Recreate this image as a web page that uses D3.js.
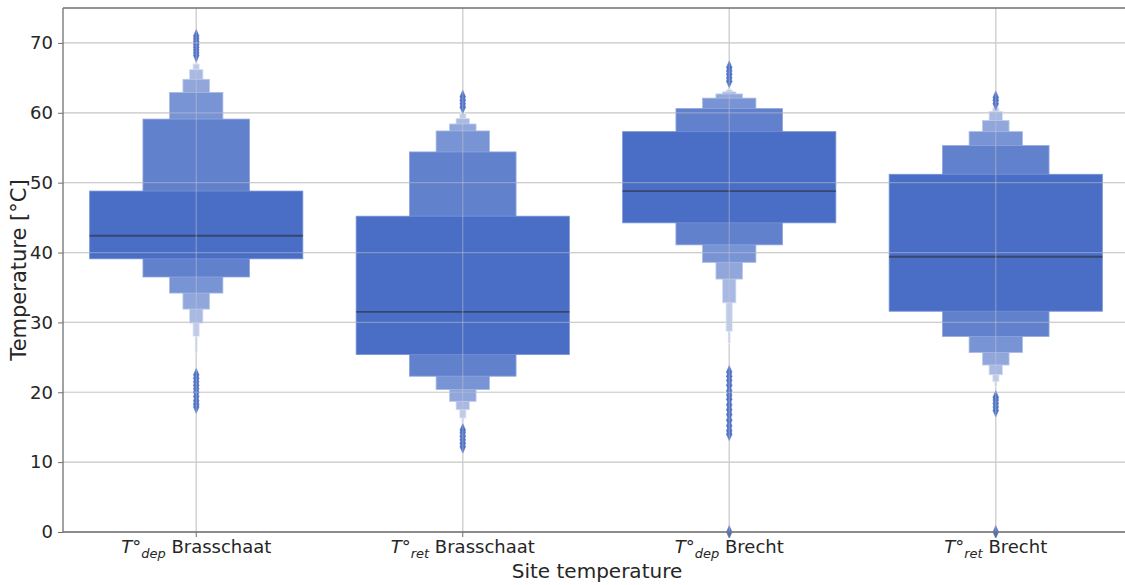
<!DOCTYPE html>
<html><head><meta charset="utf-8">
<script src="https://cdn.jsdelivr.net/npm/d3@7"></script>
<style>body{margin:0;background:#fff}svg{display:block;font-family:"DejaVu Sans",sans-serif}</style>
</head><body>
<svg id="c" width="1125" height="585"></svg>
<script>
const categories = ["dep Brasschaat","ret Brasschaat","dep Brecht","ret Brecht"];
const subscripts = ["dep","ret","dep","ret"];
const sites = ["Brasschaat","Brasschaat","Brecht","Brecht"];
const medians = [42.4, 31.5, 48.8, 39.4];
// letter-value levels, innermost (IQR) first
const lowerLevels = [
  [39.1, 36.5, 34.2, 31.9, 29.9, 28.0, 25.6],
  [25.4, 22.3, 20.4, 18.7, 17.5, 16.3, 15.6],
  [44.25, 41.1, 38.6, 36.2, 32.8, 28.7, 27.0],
  [31.6, 28.0, 25.7, 23.9, 22.5, 21.5, 20.8]
];
const upperLevels = [
  [48.8, 59.1, 62.9, 64.8, 66.2, 67.0, 67.4],
  [45.2, 54.4, 57.4, 58.4, 59.2, 59.9, 60.3],
  [57.3, 60.6, 62.1, 62.7, 63.0, 63.3, 63.6],
  [51.2, 55.3, 57.3, 58.9, 60.2, 60.7, 61.0]
];
const outliers = [
  [68.2, 68.6, 69.0, 69.4, 69.8, 70.2, 70.6, 71.0, 17.9, 18.3, 18.8, 19.4, 20.0, 20.5, 21.0, 21.5, 22.0, 22.5],
  [60.8, 61.3, 61.8, 62.3, 12.2, 12.7, 13.2, 13.7, 14.2, 14.6],
  [64.5, 65.0, 65.5, 66.0, 66.5, 14.0, 14.5, 15.2, 16.0, 16.8, 17.5, 18.2, 19.0, 19.6, 20.2, 21.0, 21.7, 22.3, 22.9, 0],
  [61.3, 61.8, 62.2, 17.4, 17.9, 18.4, 18.9, 19.3, 0]
];
const yTicks = [0, 10, 20, 30, 40, 50, 60, 70];

const svg = d3.select("#c");
const M = {l: 63, r: 1129, t: 8, b: 532};
const x = d3.scaleBand().domain(categories).range([M.l, M.r]).padding(0);
const y = d3.scaleLinear().domain([0, 75]).range([M.b, M.t]);
const baseColor = "#4a6ec6";
const gridCol = "#d2d2d2";

svg.append("defs").append("clipPath").attr("id","pc")
  .append("rect").attr("x",M.l).attr("y",M.t-6).attr("width",M.r-M.l).attr("height",M.b-M.t+12);

function grid(g, col, op){
  g.selectAll(".hy").data(yTicks).join("line")
    .attr("x1",M.l).attr("x2",M.r).attr("y1",d=>y(d)).attr("y2",d=>y(d))
    .attr("stroke",col).attr("stroke-opacity",op).attr("stroke-width",1.2);
  g.selectAll(".vx").data(categories).join("line").attr("class","vx")
    .attr("x1",d=>x(d)+x.bandwidth()/2).attr("x2",d=>x(d)+x.bandwidth()/2)
    .attr("y1",M.t).attr("y2",M.b)
    .attr("stroke",col).attr("stroke-opacity",op).attr("stroke-width",1.2);
}
grid(svg.append("g"), gridCol, 1);

const plot = svg.append("g").attr("clip-path","url(#pc)");
const fullW = x.bandwidth()*0.8;
categories.forEach((c, i) => {
  const cx = x(c) + x.bandwidth()/2;
  const g = plot.append("g");
  const n = lowerLevels[i].length;
  const lv = d3.range(n).reverse();
  g.selectAll("rect").data(lv).join("rect")
    .attr("x", k => cx - fullW*Math.pow(0.5,k)/2)
    .attr("width", k => fullW*Math.pow(0.5,k))
    .attr("y", k => y(upperLevels[i][k]))
    .attr("height", k => y(lowerLevels[i][k]) - y(upperLevels[i][k]))
    .attr("fill", k => d3.interpolateRgb(baseColor, "#ffffff")(k*0.13))
    .attr("stroke", k => d3.interpolateRgb(baseColor, "#ffffff")(k*0.13+0.25))
    .attr("stroke-width", 0.8);
  // outliers
  g.selectAll("path").data(outliers[i]).join("path")
    .attr("d", d3.symbol(d3.symbolDiamond, 30))
    .attr("transform", d => `translate(${cx},${y(d)}) scale(0.95,1.25)`)
    .attr("fill", baseColor).attr("stroke", "#5a7bcc").attr("stroke-width", 0.6);
});

grid(svg.append("g"), "#c8c8c8", 0.45);

// medians
plot.append("g").selectAll("line").data(categories).join("line")
  .attr("x1",(d)=>x(d)+x.bandwidth()/2-fullW/2).attr("x2",(d)=>x(d)+x.bandwidth()/2+fullW/2)
  .attr("y1",(d,i)=>y(medians[i])).attr("y2",(d,i)=>y(medians[i]))
  .attr("stroke","#33415f").attr("stroke-opacity",0.85).attr("stroke-width",1.8);

// spines
const spine = "#707070";
svg.append("line").attr("x1",M.l).attr("x2",M.l).attr("y1",M.t).attr("y2",M.b).attr("stroke",spine).attr("stroke-width",1.3);
svg.append("line").attr("x1",M.l).attr("x2",M.r).attr("y1",M.b).attr("y2",M.b).attr("stroke",spine).attr("stroke-width",1.3);
svg.append("line").attr("x1",M.l).attr("x2",M.r).attr("y1",M.t).attr("y2",M.t).attr("stroke",spine).attr("stroke-width",1.3);

// y axis
const ya = svg.append("g").attr("transform",`translate(${M.l},0)`)
  .call(d3.axisLeft(y).tickValues(yTicks).tickSize(5).tickPadding(5).tickFormat(d3.format("d")));
ya.select(".domain").remove();
ya.selectAll("line").attr("stroke",spine);
ya.selectAll("text").attr("font-size",18).attr("fill","#262626").attr("font-family","DejaVu Sans");

// x axis
const xa = svg.append("g").attr("transform",`translate(0,${M.b})`)
  .call(d3.axisBottom(x).tickSize(5).tickPadding(4).tickFormat(""));
xa.select(".domain").remove();
xa.selectAll("line").attr("stroke",spine);
xa.selectAll(".tick").each(function(d,i){
  const t = d3.select(this).append("text").attr("y",21).attr("text-anchor","middle")
    .attr("fill","#262626").attr("font-size",18).attr("font-family","DejaVu Sans");
  t.append("tspan").attr("font-style","italic").text("T°");
  t.append("tspan").attr("font-style","italic").attr("font-size",13).attr("dy",5).text(subscripts[i]);
  t.append("tspan").attr("dy",-5).text("\u00a0" + sites[i]);
});

svg.append("text").attr("x",597).attr("y",578).attr("text-anchor","middle")
  .attr("font-size",20).attr("fill","#262626").text("Site temperature");
svg.append("text").attr("transform",`translate(26,${(M.t+M.b)/2}) rotate(-90)`).attr("text-anchor","middle")
  .attr("font-size",21).attr("fill","#262626").text("Temperature [°C]");
</script>
</body></html>
